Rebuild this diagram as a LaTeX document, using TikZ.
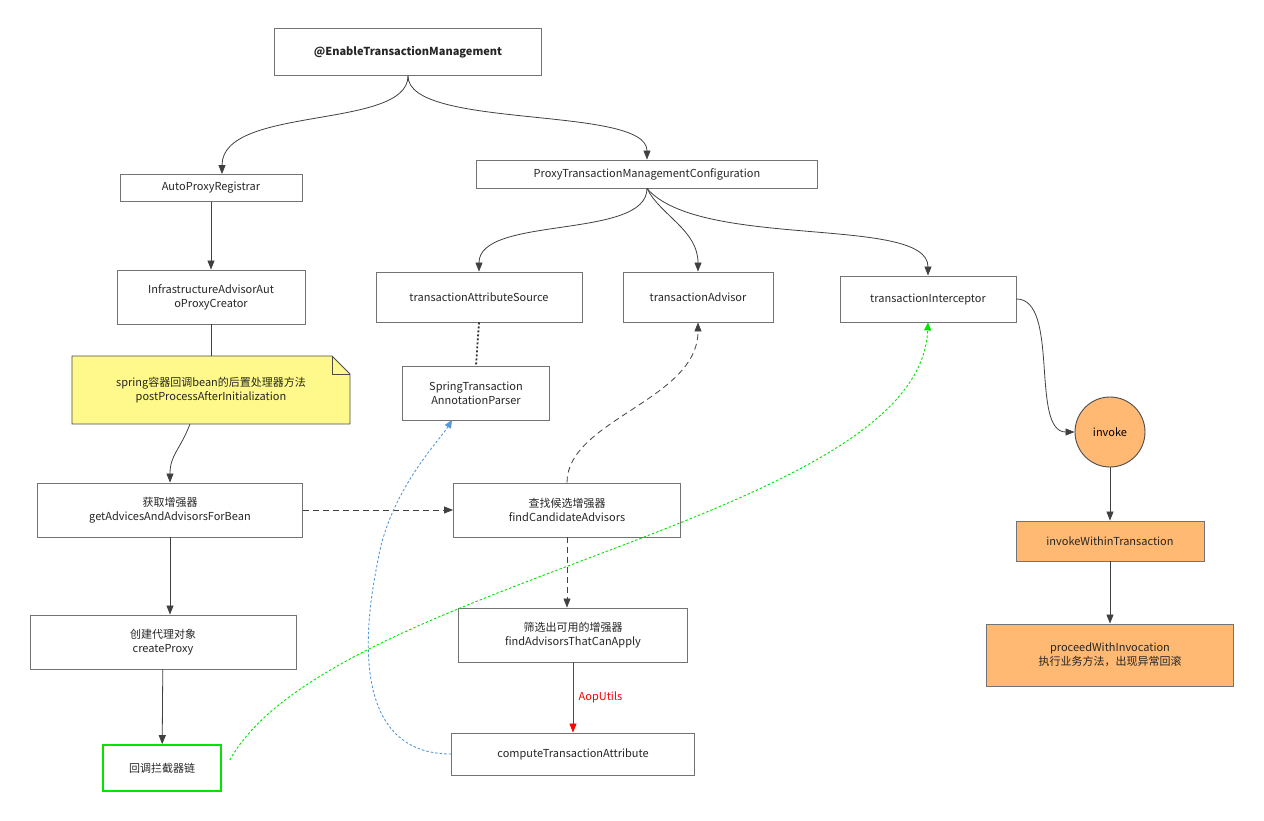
\documentclass[tikz,border=0pt]{standalone}
\usepackage{fontspec}
\setmainfont{Noto Sans CJK SC}
\usetikzlibrary{arrows.meta,shapes.misc}
\begin{document}
\begin{tikzpicture}[x=1pt,y=-1pt,
  box/.style={draw=black!55,line width=0.9pt,fill=white,align=center,inner sep=0pt,font=\fontsize{11}{14}\selectfont,text=black!85},
  arr/.style={-{Triangle[length=9pt,width=7pt]},line width=0.8pt,draw=black!75},
  dsh/.style={arr,dash pattern=on 6pt off 4pt}]
\useasboundingbox (0,0) rectangle (1264,820);
\node[box,minimum width=267pt,minimum height=47pt,font=\bfseries\fontsize{11}{14}\selectfont] (en) at (408,52) {@EnableTransactionManagement};
\node[box,minimum width=182pt,minimum height=27pt] (apr) at (211,188) {AutoProxyRegistrar};
\node[box,minimum width=341pt,minimum height=28pt] (ptm) at (647,174) {ProxyTransactionManagementConfiguration};
\node[box,minimum width=188pt,minimum height=54pt] (inf) at (211,297) {InfrastructureAdvisorAut\\oProxyCreator};
\fill[fill=yellow!45!white] (72,356) -- (332,356) -- (350,374) -- (350,424) -- (72,424) -- cycle;
\draw[black!70,line width=0.8pt] (72,356) -- (332,356) -- (350,374) -- (350,424) -- (72,424) -- cycle;
\draw[black!70,line width=0.8pt] (332,356) -- (332,374) -- (350,374);
\node[align=center,font=\fontsize{11}{14}\selectfont,text=black!85] (note) at (211,390) {spring容器回调bean的后置处理器方法\\postProcessAfterInitialization};
\coordinate (notetop) at (211,356);
\coordinate (notebot) at (190,424);
\node[box,minimum width=206pt,minimum height=50pt] (tas) at (479,297) {transactionAttributeSource};
\node[box,minimum width=150pt,minimum height=50pt] (tad) at (698,297) {transactionAdvisor};
\node[box,minimum width=176pt,minimum height=46pt] (tin) at (928,299) {transactionInterceptor};
\node[box,minimum width=147pt,minimum height=54pt] (stp) at (476,393) {SpringTransaction\\AnnotationParser};
\node[circle,draw=black!70,line width=0.9pt,fill=orange!55!white,minimum size=70pt,inner sep=0pt,font=\fontsize{11}{14}\selectfont] (inv) at (1110,432) {invoke};
\node[box,minimum width=265pt,minimum height=54pt] (gad) at (170,510) {获取增强器\\getAdvicesAndAdvisorsForBean};
\node[box,minimum width=227pt,minimum height=54pt] (fca) at (567,510) {查找候选增强器\\findCandidateAdvisors};
\node[box,fill=orange!55!white,minimum width=188pt,minimum height=40pt] (iwt) at (1110,541) {invokeWithinTransaction};
\node[box,minimum width=266pt,minimum height=54pt] (cp) at (163,642) {创建代理对象\\createProxy};
\node[box,minimum width=229pt,minimum height=54pt] (fat) at (573,635) {筛选出可用的增强器\\findAdvisorsThatCanApply};
\node[box,fill=orange!55!white,minimum width=247pt,minimum height=62pt] (pwi) at (1110,655) {proceedWithInvocation\\执行业务方法，出现异常回滚};
\node[box,draw=green!90!black,line width=1.6pt,minimum width=118pt,minimum height=46pt] (cb) at (162,768) {回调拦截器链};
\node[box,minimum width=243pt,minimum height=42pt] (cta) at (573,754) {computeTransactionAttribute};
% edges
\draw[arr] (en.south) .. controls (408,130) and (222,105) .. (apr.north -| 222,0);
\draw[arr] (en.south) .. controls (408,130) and (647,105) .. (ptm.north);
\draw[arr] (apr) -- (inf);
\draw[line width=0.8pt,black!75] (inf.south) -- (notetop);
\draw[arr] (notebot) .. controls (180,450) and (170,455) .. (gad.north);
\draw[dsh] (gad) -- (fca);
\draw[arr] (gad) -- (gad.south |- cp.north);
\draw[arr] (cp) -- (cb);
\draw[arr] (ptm.south) .. controls (647,240) and (479,215) .. (tas.north);
\draw[arr] (ptm.south) .. controls (660,215) and (698,230) .. (tad.north);
\draw[arr] (ptm.south) .. controls (700,250) and (928,215) .. (tin.north);
\draw[line width=1.8pt,black!80,dash pattern=on 2pt off 2pt] (tas.south) -- (stp.north);
\draw[dsh] (fca.north) .. controls (567,420) and (698,400) .. (tad.south);
\draw[dsh] (fca.south) -- (fca.south |- fat.north);
\draw[arr,draw=red] (fat) -- node[right,text=red,font=\fontsize{11}{14}\selectfont,xshift=2pt]{AopUtils} (cta);
\draw[-{Triangle[length=8pt,width=7pt]},draw=cyan!60!blue!70,line width=0.9pt,dash pattern=on 2.5pt off 2pt] (cta.west) .. controls (340,754) and (370,600) .. (378,560) .. controls (390,490) and (440,440) .. (452,420);
\draw[-{Triangle[length=8pt,width=7pt]},draw=green!90!black,line width=0.9pt,dash pattern=on 2.5pt off 2pt] (cb.east) ++(8,-8) .. controls (330,580) and (920,520) .. (tin.south);
\draw[arr] (tin.east) .. controls (1060,299) and (1030,432) .. (inv.west);
\draw[arr] (inv) -- (iwt);
\draw[arr] (iwt) -- (pwi);
\end{tikzpicture}
\end{document}
